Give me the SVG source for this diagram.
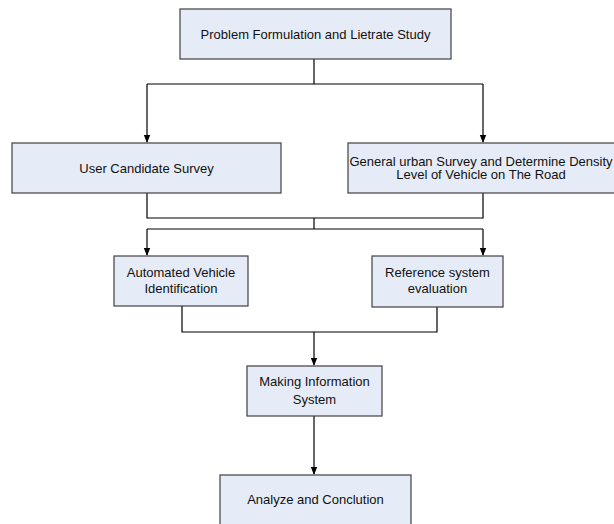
<svg xmlns="http://www.w3.org/2000/svg" width="614" height="524" viewBox="0 0 614 524">
<style>
.box{fill:#e6ecf7;stroke:#404040;stroke-width:1.2}
.t{font-family:"Liberation Sans",Arial,sans-serif;font-size:13px;fill:#111;text-anchor:middle}
.c{fill:none;stroke:#000;stroke-width:1.2}
</style>
<defs>
<marker id="ah" markerWidth="8" markerHeight="10" refX="7" refY="4" orient="auto" markerUnits="userSpaceOnUse" viewBox="0 0 8 8">
<path d="M0,0.8 L8,4 L0,7.2 Z" fill="#000"/>
</marker>
</defs>
<rect width="614" height="524" fill="#fff"/>
<g id="connectors">
<path class="c" d="M314,59 V84"/>
<path class="c" d="M147,84 H483"/>
<path class="c" d="M147,84 V142" marker-end="url(#ah)"/>
<path class="c" d="M483,84 V142" marker-end="url(#ah)"/>
<path class="c" d="M147,193 V218 H483 V193"/>
<path class="c" d="M314,218 V229"/>
<path class="c" d="M147,229 H483"/>
<path class="c" d="M147,229 V255" marker-end="url(#ah)"/>
<path class="c" d="M483,229 V255" marker-end="url(#ah)"/>
<path class="c" d="M182,306 V332 H437 V307"/>
<path class="c" d="M314,332 V365" marker-end="url(#ah)"/>
<path class="c" d="M314,416 V474" marker-end="url(#ah)"/>
</g>
<g id="n1">
<rect class="box" x="180" y="9" width="271" height="50"/>
<text class="t" x="315.5" y="38.5">Problem Formulation and Lietrate Study</text>
</g>
<g id="n2">
<rect class="box" x="12" y="143" width="269" height="50"/>
<text class="t" x="146.5" y="172.5">User Candidate Survey</text>
</g>
<g id="n3">
<rect class="box" x="348" y="143" width="272" height="50"/>
<text class="t" x="481" y="165.5">General urban Survey and Determine Density</text>
<text class="t" x="481" y="179">Level of Vehicle on The Road</text>
</g>
<g id="n4">
<rect class="box" x="114" y="256" width="134" height="50"/>
<text class="t" x="181" y="276.5">Automated Vehicle</text>
<text class="t" x="181" y="292.5">Identification</text>
</g>
<g id="n5">
<rect class="box" x="372" y="256" width="131" height="51"/>
<text class="t" x="437.5" y="276.5">Reference system</text>
<text class="t" x="437.5" y="292.5">evaluation</text>
</g>
<g id="n6">
<rect class="box" x="247" y="366" width="135" height="50"/>
<text class="t" x="314.5" y="385.5">Making Information</text>
<text class="t" x="314.5" y="403.5">System</text>
</g>
<g id="n7">
<rect class="box" x="220" y="475" width="191" height="60"/>
<text class="t" x="315.5" y="503.5">Analyze and Conclution</text>
</g>
</svg>
